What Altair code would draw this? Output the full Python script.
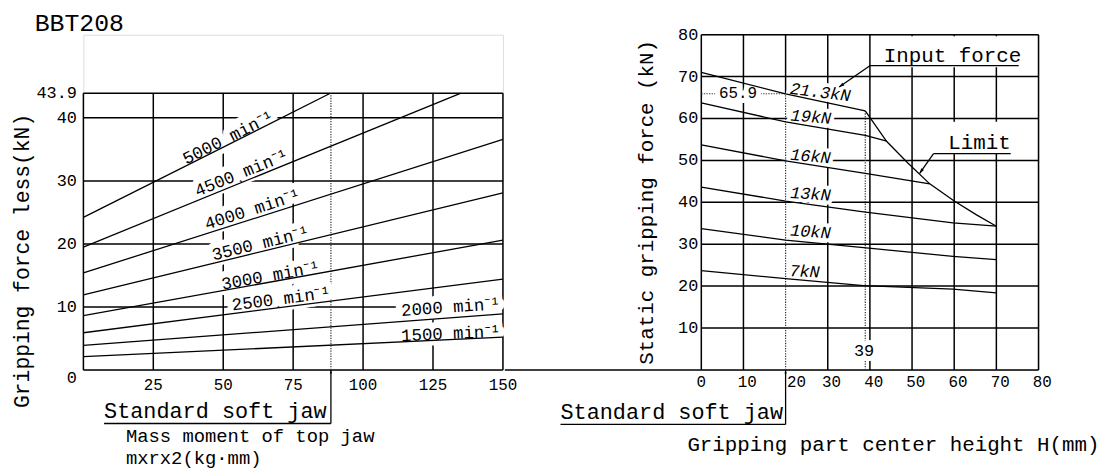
import altair as alt
import pandas as pd

FONT = "Liberation Mono"

# ================= LEFT PANEL: gripping force loss vs mass moment =================
L_SPEED = ["5000", "4500", "4000", "3500", "3000", "2500", "2000", "1500"]
L_M_START = [0, 0, 0, 0, 0, 0, 0, 0]
L_F_START = [24.2, 19.5, 15.4, 11.9, 8.6, 5.9, 3.9, 2.1]
L_M_END = [88.3, 134.8, 150, 150, 150, 150, 150, 150]
L_F_END = [43.9, 43.9, 36.6, 28.1, 20.6, 14.4, 8.9, 5.2]
L_X_TICKS = [25, 50, 75, 100, 125, 150]
L_Y_TICKS = [0, 10, 20, 30, 40, 43.9]
L_X_MAX = 150
L_Y_MAX = 43.9
L_STD_JAW = 88.5

# ================= RIGHT PANEL: static gripping force vs height =================
R_SERIES = ["21.3kN", "19kN", "16kN", "13kN", "10kN", "7kN"]
H_213 = [0, 20, 38.9]
F_213 = [71.0, 65.9, 61.8]
H_19 = [0, 20, 38.9, 44.0]
F_19 = [63.7, 59.2, 56.0, 54.6]
H_16 = [0, 20, 38.9, 54.2]
F_16 = [53.7, 49.9, 46.9, 44.4]
H_13 = [0, 20, 38.5, 59.7, 70]
F_13 = [43.6, 40.3, 37.7, 35.1, 34.3]
H_10 = [0, 20, 38.5, 59.7, 70]
F_10 = [33.7, 31.0, 29.2, 27.1, 26.3]
H_7 = [0, 20, 38.5, 59.7, 70]
F_7 = [23.7, 21.8, 20.1, 19.3, 18.4]
H_LIMIT = [38.9, 44.0, 49.0, 54.2, 60.0, 65.3, 70.0]
F_LIMIT = [61.8, 54.5, 49.4, 44.4, 40.3, 37.0, 34.3]
R_X_TICKS = [0, 10, 20, 30, 40, 50, 60, 70, 80]
R_Y_TICKS = [10, 20, 30, 40, 50, 60, 70, 80]
R_MAX = 80
R_STD_JAW = 20
R_STD_JAW_F = 65.9
R_BEND_H = 38.9
R_BEND_F = 61.8

# ================= layout (pixels) =================
LW, RW, PH = 423, 340, 338
L_Y_VIEW = 53.2          # left view extends above its 43.9 frame (title room)

XL = alt.Scale(domain=[0, L_X_MAX], nice=False, zero=False)
YL = alt.Scale(domain=[0, L_Y_VIEW], nice=False, zero=False)
XR = alt.Scale(domain=[0, R_MAX], nice=False, zero=False)
YR = alt.Scale(domain=[0, R_MAX], nice=False, zero=False)

ARROW = "M0,0L0.33,1L-0.33,1Z"


def segs(x0, x1, y0, y1, xs, ys, width=1.5, dash=None, color="black"):
    df = pd.DataFrame({"x0": x0, "x1": x1, "y0": y0, "y1": y1})
    mk = dict(color=color, strokeWidth=width, strokeCap="butt")
    if dash:
        mk["strokeDash"] = dash
    return alt.Chart(df).mark_rule(**mk).encode(
        x=alt.X("x0:Q", scale=xs, axis=None), x2="x1:Q",
        y=alt.Y("y0:Q", scale=ys, axis=None), y2="y1:Q")


def text_df(rows):
    return pd.DataFrame(rows, columns=["t", "x", "y", "s", "a"])


def text_enc(xs, ys):
    return dict(x=alt.X("x:Q", scale=xs, axis=None),
                y=alt.Y("y:Q", scale=ys, axis=None),
                text="t:N",
                size=alt.Size("s:Q", scale=None, legend=None),
                angle=alt.Angle("a:Q", scale=None))


def texts(rows, xs, ys, align="left", baseline="alphabetic", italic=False):
    return alt.Chart(text_df(rows)).mark_text(
        align=align, baseline=baseline, font=FONT, fill="black",
        fontStyle="italic" if italic else "normal").encode(**text_enc(xs, ys))


def halos(rows, xs, ys, align="left", baseline="alphabetic", italic=False, w=10):
    return alt.Chart(text_df(rows)).mark_text(
        align=align, baseline=baseline, font=FONT, fill="white", stroke="white",
        strokeWidth=w, strokeJoin="round",
        fontStyle="italic" if italic else "normal").encode(**text_enc(xs, ys))


def arrows(x, y, ang, xs, ys, size=100):
    df = pd.DataFrame({"x": x, "y": y, "a": ang})
    return alt.Chart(df).mark_point(shape=ARROW, filled=True, color="black",
                                    opacity=1, size=size).encode(
        x=alt.X("x:Q", scale=xs, axis=None), y=alt.Y("y:Q", scale=ys, axis=None),
        angle=alt.Angle("a:Q", scale=None))


def fmt(v):
    return ("%g" % v)


# ---------------- left panel layers ----------------
lg_v = segs(L_X_TICKS, L_X_TICKS, [0] * len(L_X_TICKS), [L_Y_MAX] * len(L_X_TICKS), XL, YL)
lg_h = segs([0] * 5, [L_X_MAX] * 5, L_Y_TICKS[1:], L_Y_TICKS[1:], XL, YL)
lg_frame = segs([0, 0], [0, L_X_MAX], [0, 0], [L_Y_MAX, 0], XL, YL)
l_dot = segs([L_STD_JAW], [L_STD_JAW], [0], [L_Y_MAX], XL, YL, width=1.2, dash=[1.3, 1.3], color="#333")

l_curves_df = pd.DataFrame({"n": L_SPEED, "m0": L_M_START, "f0": L_F_START,
                            "m1": L_M_END, "f1": L_F_END})
l_curves = alt.Chart(l_curves_df).mark_rule(color="black", strokeWidth=1.3).encode(
    x=alt.X("m0:Q", scale=XL, axis=None), x2="m1:Q",
    y=alt.Y("f0:Q", scale=YL, axis=None), y2="f1:Q")

# tick labels (drawn as text through the scales)
l_xtick_rows = [[fmt(v), v, -1.1, 16, 0] for v in L_X_TICKS]
l_ytick_rows = [[fmt(v), -2.3, (v if v > 0 else -1.3), 17, 0] for v in L_Y_TICKS]
l_xticks = texts(l_xtick_rows, XL, YL, align="center", baseline="top")
l_yticks = texts(l_ytick_rows, XL, YL, align="right", baseline="middle")

l_lbl_rows = [
    ["5000 min⁻¹", 51.9, 36.8, 17.5, 333.3],
    ["4500 min⁻¹", 56.6, 31.2, 17.5, 337.8],
    ["4000 min⁻¹", 60.5, 25.4, 17.5, 342.3],
    ["3500 min⁻¹", 63.4, 20.0, 17.5, 346.3],
    ["3000 min⁻¹", 67.0, 14.9, 17.5, 349.8],
    ["2500 min⁻¹", 70.8, 11.2, 17.5, 352.7],
    ["2000 min⁻¹", 131.4, 9.9, 17.5, 356.0],
    ["1500 min⁻¹", 131.4, 5.7, 17.5, 357.5],
]
l_lbl_halo = halos(l_lbl_rows, XL, YL, align="center", baseline="middle", w=13)
l_lbl = texts(l_lbl_rows, XL, YL, align="center", baseline="middle")

l_ann_rows = [
    ["BBT208", -17.4, 53.78, 25, 0],
    ["Standard soft jaw", 7.4, -7.6, 22, 0],
    ["Mass moment of top jaw", 15.2, -11.5, 19, 0],
    ["mxrx2(kg·mm)", 15.2, -14.96, 19, 0],
]
l_ann = texts(l_ann_rows, XL, YL)
l_ytitle = texts([["Gripping force less(kN)", -21.6, 17.3, 21.5, 270]], XL, YL,
                 align="center", baseline="middle")
l_leader = segs([7.4, L_STD_JAW], [L_STD_JAW, L_STD_JAW], [-8.5, -8.5], [-8.5, 0], XL, YL, width=1.3)
l_arrow = arrows([L_STD_JAW], [0], [0], XL, YL, size=49)

left = alt.layer(lg_v, lg_h, lg_frame, l_dot, l_lbl_halo, l_curves, l_leader, l_arrow,
                 l_lbl, l_ann, l_ytitle, l_xticks, l_yticks).properties(width=LW, height=PH)

# ---------------- right panel layers ----------------
rg_full_x = [0, 10, 30, 40, 50, 60, 70, 80]
rg_v = segs(rg_full_x, rg_full_x, [0] * len(rg_full_x), [R_MAX] * len(rg_full_x), XR, YR)
rg_v20 = segs([R_STD_JAW], [R_STD_JAW], [R_STD_JAW_F], [R_MAX], XR, YR)
rg_h = segs([0] * len(R_Y_TICKS), [R_MAX] * len(R_Y_TICKS), R_Y_TICKS, R_Y_TICKS, XR, YR)
r_base = segs([-46.6], [R_MAX], [0], [0], XR, YR)
r_dots = segs([R_STD_JAW, 0, R_BEND_H], [R_STD_JAW, R_STD_JAW, R_BEND_H],
              [0, R_STD_JAW_F, 0], [R_STD_JAW_F, R_STD_JAW_F, R_BEND_F],
              XR, YR, width=1.2, dash=[1.3, 1.3], color="#333")

mask_df = pd.DataFrame({"x0": [40.3, 56.7], "x1": [79.6, 73.6],
                        "y0": [72.2, 51.7], "y1": [79.6, 59.2]})
r_mask = alt.Chart(mask_df).mark_rect(color="white").encode(
    x=alt.X("x0:Q", scale=XR, axis=None), x2="x1:Q",
    y=alt.Y("y0:Q", scale=YR, axis=None), y2="y1:Q")

series_h = [H_213, H_19, H_16, H_13, H_10, H_7, H_LIMIT]
series_f = [F_213, F_19, F_16, F_13, F_10, F_7, F_LIMIT]
series_n = R_SERIES + ["Limit"]
rows = []
for n, hs, fs in zip(series_n, series_h, series_f):
    for i, (h, f) in enumerate(zip(hs, fs)):
        rows.append({"s": n, "h": h, "f": f, "o": i})
r_df = pd.DataFrame(rows)
r_curves = alt.Chart(r_df).mark_line(color="black", strokeWidth=1.3).encode(
    x=alt.X("h:Q", scale=XR, axis=None),
    y=alt.Y("f:Q", scale=YR, axis=None),
    detail="s:N", order="o:Q")

r_xtick_rows = [[fmt(v), v + (0 if v == 0 else (2.6 if v == R_STD_JAW else 0.9)), -0.95, 16, 0]
                for v in R_X_TICKS]
r_ytick_rows = [[fmt(v), -0.7, v, 17, 0] for v in R_Y_TICKS]
r_xticks = texts(r_xtick_rows, XR, YR, align="center", baseline="top")
r_yticks = texts(r_ytick_rows, XR, YR, align="right", baseline="middle")

r_klbl_rows = [
    ["21.3kN", 28.2, 66.2, 17, 7],
    ["19kN", 26.0, 60.3, 17, 5],
    ["16kN", 25.9, 50.9, 17, 5],
    ["13kN", 25.9, 41.9, 17, 4],
    ["10kN", 25.9, 32.9, 17, 4],
    ["7kN", 24.5, 23.4, 17, 3],
]
r_klbl_halo = halos(r_klbl_rows, XR, YR, align="center", baseline="middle", italic=True, w=8)
r_klbl = texts(r_klbl_rows, XR, YR, align="center", baseline="middle", italic=True)

r_num_rows = [["65.9", 8.7, 66.0, 16, 0], ["39", 38.6, 4.5, 17, 0]]
r_num_halo = halos(r_num_rows, XR, YR, align="center", baseline="middle", w=10)
r_num = texts(r_num_rows, XR, YR, align="center", baseline="middle")

r_ann_rows = [
    ["Input force", 43.3, 73.6, 21, 0],
    ["Limit", 58.6, 52.8, 21, 0],
    ["Standard soft jaw", -33.4, -11.8, 22, 0],
    ["Gripping part center height H(mm)", -3.3, -19.4, 21, 0],
]
r_ann = texts(r_ann_rows, XR, YR)
r_ytitle = texts([["Static gripping force (kN)", -12.9, 40.0, 21, 270]], XR, YR,
                 align="center", baseline="middle")

r_leaders = segs([40, 40, 55.1, 55.1, -33.4, R_STD_JAW],
                 [75.3, 32.7, 73.4, 51.8, R_STD_JAW, R_STD_JAW],
                 [72.6, 72.6, 51.6, 51.6, -13.0, -13.0],
                 [72.6, 67.5, 51.6, 46.9, -13.0, 0],
                 XR, YR, width=1.3)
r_arrow_big = arrows([32.7, 51.8], [67.5, 46.9], [234.6, 215.0], XR, YR, size=110)
r_arrow_small = arrows([R_STD_JAW], [0], [0], XR, YR, size=49)

right = alt.layer(rg_v, rg_v20, rg_h, r_base, r_dots, r_mask, r_klbl_halo, r_num_halo,
                  r_curves, r_leaders, r_arrow_big, r_arrow_small,
                  r_klbl, r_num, r_ann, r_ytitle, r_xticks, r_yticks).properties(width=RW, height=PH)

chart = alt.hconcat(left, right, spacing=200, bounds="flush").properties(
    padding={"left": 3, "top": 0, "right": 0, "bottom": 0}
).configure_view(strokeWidth=0).configure(background="white")

chart.save("out.html", embed_options={"renderer": "svg", "actions": False})
